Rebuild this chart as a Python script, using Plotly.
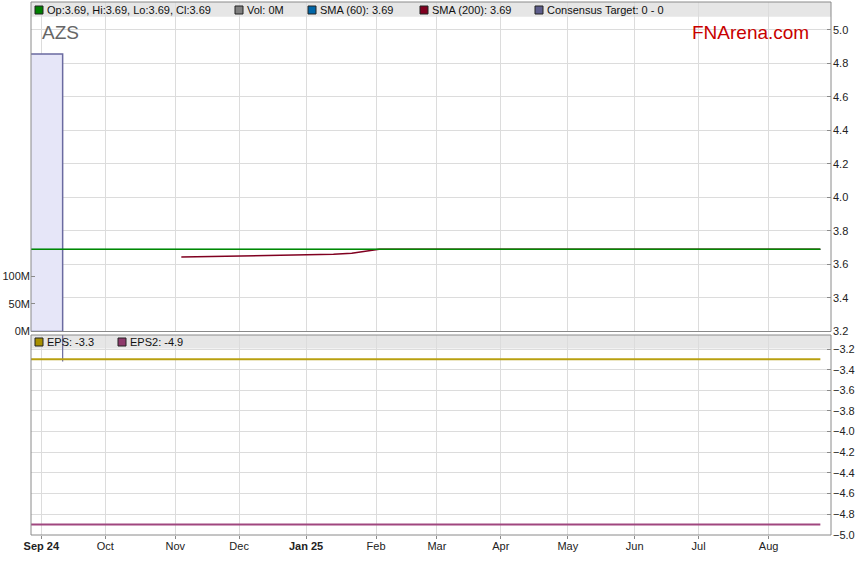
import plotly.graph_objects as go

# ---------------- data ----------------
price_dates = ["2024-08-26", "2025-08-26"]
price_close = [3.69, 3.69]

sma60_dates = ["2024-08-26", "2025-08-26"]
sma60_values = [3.69, 3.69]

sma200_dates = ["2024-11-05", "2024-12-02", "2025-01-02", "2025-01-14",
                "2025-01-22", "2025-01-28", "2025-01-31", "2025-02-04", "2025-08-26"]
sma200_values = [3.644, 3.651, 3.656, 3.661, 3.667, 3.677, 3.684, 3.69, 3.69]

vol_bar_start = "2024-08-26"
vol_bar_end = "2024-09-11"
vol_bar_value = 500e6

eps_dates = ["2024-08-26", "2025-08-26"]
eps_values = [-3.3, -3.3]
eps2_values = [-4.9, -4.9]

month_ticks = ["2024-09-02", "2024-10-01", "2024-11-01", "2024-12-02",
               "2025-01-01", "2025-02-03", "2025-03-03", "2025-04-01",
               "2025-05-01", "2025-06-02", "2025-07-01", "2025-08-01"]
month_labels = ["<b>Sep 24</b>", "Oct", "Nov", "Dec", "<b>Jan 25</b>", "Feb",
                "Mar", "Apr", "May", "Jun", "Jul", "Aug"]

price_ticks = [3.2, 3.4, 3.6, 3.8, 4.0, 4.2, 4.4, 4.6, 4.8, 5.0]
eps_ticks = [-3.2, -3.4, -3.6, -3.8, -4.0, -4.2, -4.4, -4.6, -4.8, -5.0]
vol_ticks = [0, 50e6, 100e6]
vol_labels = ["0M", "50M", "100M"]

legend_top = [("#008000", "Op:3.69, Hi:3.69, Lo:3.69, Cl:3.69"),
              ("#808080", "Vol: 0M"),
              ("#0066a8", "SMA (60): 3.69"),
              ("#800020", "SMA (200): 3.69"),
              ("#5e5e8c", "Consensus Target: 0 - 0")]
legend_bottom = [("#a89000", "EPS: -3.3"), ("#8e3a6c", "EPS2: -4.9")]

# ---------------- layout geometry ----------------
W, H = 859, 566
ML, MR, MT, MB = 31, 28, 2, 31
PW, PH = W - ML - MR, H - MT - MB


def px_x(x):
    return (x - ML) / PW


def px_y(y):
    return (H - MB - y) / PH


main_dom = [px_y(331.5), 1.0]
low_dom = [0.0, px_y(335)]
price_range = [3.1995, 5.167]
vol_range = [0, 593.7e6]
eps_range = [-5.0005, -3.0645]
x_range = ["2024-08-27 14:24", "2025-08-29 12:00"]

FONT = "Liberation Sans, Arial, sans-serif"
GRID = "#dcdcdc"
AXC = "#8a8a8a"
TF = dict(family=FONT, size=11, color="#222")

fig = go.Figure()

# volume block (base layer: yaxis = volume)
fig.add_trace(go.Scatter(
    x=[vol_bar_start, vol_bar_start, vol_bar_end, vol_bar_end, vol_bar_start],
    y=[0, vol_bar_value, vol_bar_value, 0, 0],
    fill="toself", fillcolor="#e6e6f8", mode="lines",
    line=dict(color="#6a6aa0", width=1.5),
    xaxis="x", yaxis="y", hoverinfo="skip", showlegend=False))

# price layer (overlay: yaxis2 = price)
fig.add_trace(go.Scatter(x=sma60_dates, y=sma60_values, mode="lines",
                         line=dict(color="#0066a8", width=1),
                         xaxis="x", yaxis="y2", showlegend=False))
fig.add_trace(go.Scatter(x=sma200_dates, y=sma200_values, mode="lines",
                         line=dict(color="#800020", width=1.5),
                         xaxis="x", yaxis="y2", showlegend=False))
fig.add_trace(go.Scatter(x=price_dates, y=price_close, mode="lines",
                         line=dict(color="#008a00", width=1.5),
                         xaxis="x", yaxis="y2", showlegend=False))

# lower panel
fig.add_trace(go.Scatter(x=[vol_bar_end, vol_bar_end],
                         y=[eps_range[1], eps_values[0] - 0.02], mode="lines",
                         line=dict(color="#6a6aa0", width=1.2),
                         xaxis="x", yaxis="y3", showlegend=False, hoverinfo="skip"))
fig.add_trace(go.Scatter(x=eps_dates, y=eps_values, mode="lines",
                         line=dict(color="#b8a010", width=2),
                         xaxis="x", yaxis="y3", showlegend=False))
fig.add_trace(go.Scatter(x=eps_dates, y=eps2_values, mode="lines",
                         line=dict(color="#a0467f", width=2),
                         xaxis="x", yaxis="y3", showlegend=False))

shapes = []
annotations = []

# legend bands
shapes.append(dict(type="rect", xref="paper", yref="paper", x0=0, x1=1,
                   y0=px_y(16.8), y1=1.0, fillcolor="#e6e6e6",
                   line=dict(width=0), layer="below"))
shapes.append(dict(type="rect", xref="paper", yref="paper", x0=0, x1=1,
                   y0=px_y(348.5), y1=low_dom[1], fillcolor="#e6e6e6",
                   line=dict(width=0), layer="below"))

# frames
for dom in (main_dom, low_dom):
    shapes.append(dict(type="rect", xref="paper", yref="paper", x0=0, x1=1,
                       y0=dom[0], y1=dom[1], line=dict(color=AXC, width=1),
                       fillcolor="rgba(0,0,0,0)", layer="above"))


def legend_row(items, xs, yc):
    for (col, txt), x0 in zip(items, xs):
        shapes.append(dict(type="rect", xref="paper", yref="paper",
                           x0=px_x(x0), x1=px_x(x0 + 8),
                           y0=px_y(yc + 4), y1=px_y(yc - 4),
                           fillcolor=col, line=dict(color="#222222", width=1),
                           layer="above"))
        annotations.append(dict(xref="paper", yref="paper", x=px_x(x0 + 10),
                                y=px_y(yc), text=txt, showarrow=False,
                                xanchor="left", yanchor="middle",
                                font=dict(family=FONT, size=11, color="#111")))


legend_row(legend_top, [35, 235, 308, 420, 535], 10)
legend_row(legend_bottom, [35, 118], 342)

annotations.append(dict(xref="paper", yref="paper", x=px_x(39.5), y=px_y(33),
                        text="AZS", showarrow=False, xanchor="left",
                        yanchor="middle",
                        font=dict(family=FONT, size=19, color="#666666")))
annotations.append(dict(xref="paper", yref="paper", x=px_x(811), y=px_y(33),
                        text="FNArena.com", showarrow=False, xanchor="right",
                        yanchor="middle",
                        font=dict(family=FONT, size=19, color="#c80000")))

fig.update_layout(
    width=W, height=H,
    margin=dict(l=ML, r=MR, t=MT, b=MB, pad=0, autoexpand=False),
    paper_bgcolor="white", plot_bgcolor="white",
    showlegend=False,
    font=TF,
    shapes=shapes, annotations=annotations,
    xaxis=dict(domain=[0, 1], anchor="y3", range=x_range, type="date",
               rangebreaks=[dict(bounds=["sat", "mon"])],
               tickvals=month_ticks, ticktext=month_labels,
               ticks="outside", ticklen=3, tickcolor=AXC, automargin=False,
               ticklabelstandoff=-2,
               showgrid=True, gridcolor=GRID, gridwidth=1,
               showline=False, zeroline=False, tickfont=TF),
    yaxis=dict(domain=main_dom, anchor="x", side="left", range=vol_range,
               automargin=False, tickvals=vol_ticks, ticktext=vol_labels,
               ticks="inside", ticklen=4, tickcolor=AXC,
               showgrid=False, zeroline=False, showline=False, tickfont=TF),
    yaxis2=dict(overlaying="y", anchor="x", side="right", range=price_range,
                tickvals=price_ticks, tickformat=".1f", automargin=False,
                ticks="inside", ticklen=4, tickcolor=AXC, ticklabelstandoff=1,
                showgrid=True, gridcolor=GRID, zeroline=False, showline=False,
                tickfont=TF),
    yaxis3=dict(domain=low_dom, anchor="x", side="right", range=eps_range,
                tickvals=eps_ticks, tickformat=".1f", automargin=False,
                ticks="inside", ticklen=4, tickcolor=AXC, ticklabelstandoff=1,
                showgrid=True, gridcolor=GRID, zeroline=False, showline=False,
                tickfont=TF),
)

fig.write_html("out.html",
               config={"displayModeBar": False},
               post_script="document.body.style.margin='0';"
                           "document.body.style.overflow='hidden';")
